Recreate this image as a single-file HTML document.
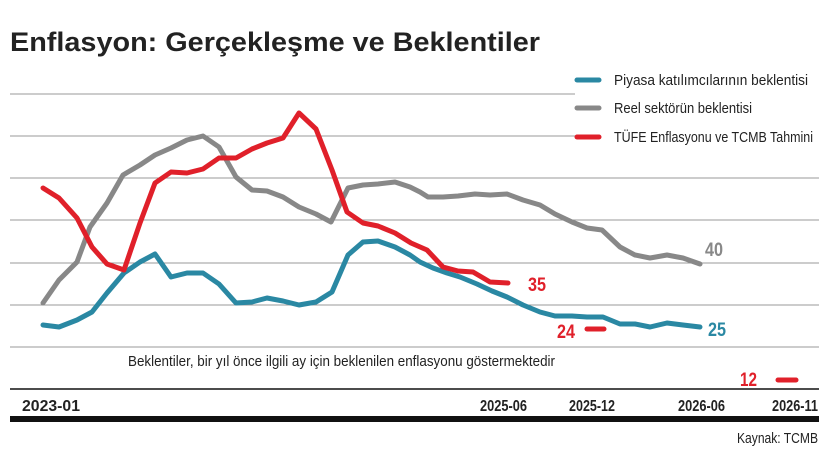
<!DOCTYPE html>
<html><head><meta charset="utf-8"><style>
body{margin:0;background:#fff}
svg{display:block}
text{font-family:"Liberation Sans",sans-serif}
</style></head><body>
<svg width="831" height="449" viewBox="0 0 831 449" xmlns="http://www.w3.org/2000/svg">
<text x="10" y="51" font-size="27" font-weight="bold" fill="#222" textLength="530" lengthAdjust="spacingAndGlyphs">Enflasyon: Gerçekleşme ve Beklentiler</text>
<g stroke="#999" stroke-width="1">
<line x1="10" y1="94" x2="575" y2="94"/><line x1="10" y1="136" x2="575" y2="136"/>
<line x1="10" y1="178" x2="819" y2="178"/><line x1="10" y1="220" x2="819" y2="220"/>
<line x1="10" y1="263" x2="819" y2="263"/><line x1="10" y1="305" x2="819" y2="305"/>
<line x1="10" y1="347" x2="819" y2="347"/>
</g>
<g fill="none" stroke-width="5" stroke-linejoin="round" stroke-linecap="round">
<polyline stroke="#888" points="43,303 59,280 77,262 90,227 107,203 123,175 140,165 155,155 171,148 187,140 203,136 219,147 236,177 252,190 267,191 283,197 299,207 316,214 331,222 348,188 363,185 378,184 395,182 410,187 420,192 428,197 443,197 458,196 475,194 490,195 507,194 523,200 540,205 555,214 572,222 587,228 602,230 620,247 635,255 650,258 667,255 683,258 700,264"/>
<polyline stroke="#2a88a3" points="43,325 59,327 77,320 92,312 107,293 124,273 140,262 155,254 171,277 187,273 203,273 219,284 236,303 252,302 267,298 283,301 299,305 316,302 332,292 348,255 363,242 378,241 395,247 410,255 420,262 433,268 447,273 460,277 477,284 492,291 507,297 523,305 540,312 555,316 572,316 587,317 603,317 620,324 635,324 650,327 667,323 683,325 700,327"/>
<polyline stroke="#e0202a" points="43,188 59,198 77,218 92,247 107,264 124,270 140,223 155,183 171,172 187,173 203,169 219,158 236,158 252,149 267,143 283,138 299,113 316,129 332,170 347,212 363,223 378,226 395,233 411,243 427,250 443,267 458,271 473,272 490,282 508,283"/>
<line stroke="#e0202a" x1="587" y1="329" x2="604" y2="329"/>
<line stroke="#e0202a" x1="778" y1="380" x2="796" y2="380"/>
<line stroke="#2a88a3" x1="577" y1="80" x2="599" y2="80"/>
<line stroke="#888" x1="577" y1="108" x2="599" y2="108"/>
<line stroke="#e0202a" x1="577" y1="137" x2="599" y2="137"/>
</g>
<g font-size="15" fill="#222">
<text x="614" y="85" textLength="194" lengthAdjust="spacingAndGlyphs">Piyasa katılımcılarının beklentisi</text>
<text x="614" y="113" textLength="138" lengthAdjust="spacingAndGlyphs">Reel sektörün beklentisi</text>
<text x="614" y="142" textLength="199" lengthAdjust="spacingAndGlyphs">TÜFE Enflasyonu ve TCMB Tahmini</text>
<text x="128" y="366" textLength="427" lengthAdjust="spacingAndGlyphs">Beklentiler, bir yıl önce ilgili ay için beklenilen enflasyonu göstermektedir</text>
</g>
<g font-size="19" font-weight="bold">
<text x="528" y="291" fill="#e0202a" textLength="18" lengthAdjust="spacingAndGlyphs">35</text>
<text x="557" y="338" fill="#e0202a" textLength="18" lengthAdjust="spacingAndGlyphs">24</text>
<text x="740" y="386" fill="#e0202a" textLength="17" lengthAdjust="spacingAndGlyphs">12</text>
<text x="705" y="256" fill="#888" textLength="18" lengthAdjust="spacingAndGlyphs">40</text>
<text x="708" y="336" fill="#2a88a3" textLength="18" lengthAdjust="spacingAndGlyphs">25</text>
</g>
<line x1="10" y1="389" x2="819" y2="389" stroke="#111" stroke-width="1.5"/>
<g font-size="16" fill="#222" font-weight="bold">
<text x="22" y="411" textLength="58" lengthAdjust="spacingAndGlyphs">2023-01</text>
<text x="480" y="411" textLength="47" lengthAdjust="spacingAndGlyphs">2025-06</text>
<text x="569" y="411" textLength="46" lengthAdjust="spacingAndGlyphs">2025-12</text>
<text x="678" y="411" textLength="47" lengthAdjust="spacingAndGlyphs">2026-06</text>
<text x="772" y="411" textLength="46" lengthAdjust="spacingAndGlyphs">2026-11</text>
</g>
<rect x="10" y="416" width="809" height="6" fill="#111"/>
<text x="737" y="443" font-size="15" fill="#222" textLength="81" lengthAdjust="spacingAndGlyphs">Kaynak: TCMB</text>
</svg>
</body></html>
